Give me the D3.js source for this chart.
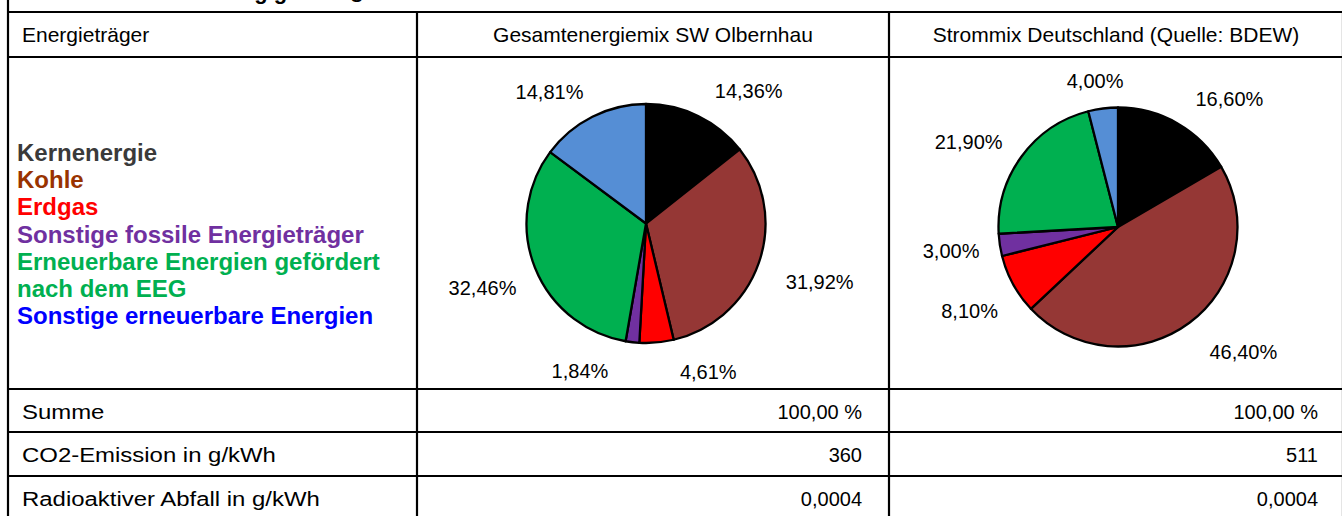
<!DOCTYPE html>
<html><head><meta charset="utf-8">
<script src="https://cdn.jsdelivr.net/npm/d3@7"></script>
<style>
html,body{margin:0;padding:0;background:#fff;overflow:hidden}
svg{display:block;font-family:Arial,"Liberation Sans",sans-serif}
</style></head>
<body>
<svg id="chart" width="1342" height="516"></svg>
<script>
// ---------- data ----------
const titleText = "Stromkennzeichnung gemäß § 42 EnWG";
const columnHeaders = ["Energieträger", "Gesamtenergiemix SW Olbernhau", "Strommix Deutschland (Quelle: BDEW)"];
const categories = ["Kernenergie", "Kohle", "Erdgas", "Sonstige fossile Energieträger",
  "Erneuerbare Energien gefördert nach dem EEG", "Sonstige erneuerbare Energien"];
const legendLines = [["Kernenergie"], ["Kohle"], ["Erdgas"], ["Sonstige fossile Energieträger"],
  ["Erneuerbare Energien gefördert", "nach dem EEG"], ["Sonstige erneuerbare Energien"]];
const mixOlbernhau = [14.36, 31.92, 4.61, 1.84, 32.46, 14.81];
const mixDeutschland = [16.60, 46.40, 8.10, 3.00, 21.90, 4.00];
const rowLabels = ["Summe", "CO2-Emission in g/kWh", "Radioaktiver Abfall in g/kWh"];
const valuesOlbernhau = ["100,00 %", "360", "0,0004"];
const valuesDeutschland = ["100,00 %", "511", "0,0004"];

// ---------- styles / layout ----------
const sliceColors = ["#000000", "#953735", "#FF0000", "#7030A0", "#00B050", "#558ED5"];
const legendColors = ["#3A3A3A", "#993300", "#FF0000", "#7030A0", "#00B050", "#0000FF"];
const colX = [8, 417, 889, 1343];
const rowY = [12, 57, 389, 432, 476, 520];
const pieCenters = [[646, 223.5], [1118, 227]];
const R = 119.5;

const svg = d3.select("#chart");
const locale = d3.formatLocale({decimal: ",", thousands: ".", grouping: [3], currency: ["", "€"]});
const fmt = locale.format(".2f");

// title (mostly cut off above the viewport)
svg.append("text").attr("x", 44).attr("y", -1.5)
  .attr("font-size", 22).attr("font-weight", "bold").attr("fill", "#000").text(titleText);

// table grid
const grid = svg.append("g").attr("stroke", "#000").attr("stroke-width", 2.2);
rowY.forEach(y => grid.append("line").attr("x1", colX[0]).attr("x2", colX[3]).attr("y1", y).attr("y2", y));
grid.append("line").attr("x1", colX[0]).attr("x2", colX[0]).attr("y1", -2).attr("y2", rowY[5]);
colX.slice(1).forEach(x => grid.append("line").attr("x1", x).attr("x2", x).attr("y1", rowY[0]).attr("y2", rowY[5]));

// header
svg.append("text").attr("x", 22).attr("y", 42).attr("font-size", 21).text(columnHeaders[0]);
[1, 2].forEach(c => svg.append("text")
  .attr("x", (colX[c] + colX[c + 1]) / 2).attr("y", 42).attr("text-anchor", "middle")
  .attr("font-size", 21).text(columnHeaders[c]));

// legend
const legend = svg.append("g").attr("font-weight", "bold").attr("font-size", 24);
let li = 0;
legendLines.forEach((lines, i) => lines.forEach(t => {
  legend.append("text").attr("x", 17).attr("y", 161 + li * 27.2)
    .attr("fill", legendColors[i]).text(t);
  li++;
}));

// pies
const pie = d3.pie().sort(null).value(d => d);
const arc = d3.arc().innerRadius(0).outerRadius(R);
[mixOlbernhau, mixDeutschland].forEach((vals, p) => {
  const g = svg.append("g").attr("transform", `translate(${pieCenters[p][0]},${pieCenters[p][1]})`);
  const arcs = pie(vals);
  g.selectAll("path").data(arcs).join("path")
    .attr("d", arc).attr("fill", (d, i) => sliceColors[i])
    .attr("stroke", "#000").attr("stroke-width", 2.3).attr("stroke-linejoin", "round");

  // labels: nearest corner of the label box sits just outside the slice's mid-angle
  const labels = g.selectAll("text").data(arcs).join("text")
    .attr("font-size", 20).attr("text-anchor", "middle").attr("fill", "#000")
    .text(d => fmt(d.data) + "%");
  const D = R + 20, hh = 10, padX = 70, padY = 40, k = 4;
  const items = arcs.map((d, i) => {
    const w = labels.nodes()[i].getComputedTextLength();
    return {theta: (d.startAngle + d.endAngle) / 2, hw: w / 2};
  });
  const clamp = v => Math.max(-1, Math.min(1, v));
  const place = it => {
    const s = Math.sin(it.theta), c = Math.cos(it.theta);
    it.x = D * s + it.hw * clamp(k * s) + (s > 0.3 ? 8 : 0);
    it.y = -D * c - hh * clamp(k * c);
  };
  items.forEach(place);
  for (let iter = 0; iter < 400; iter++) {
    let moved = false;
    for (let i = 0; i < items.length; i++) {
      const a = items[i], b = items[(i + 1) % items.length];
      const gx = Math.abs(a.x - b.x) - a.hw - b.hw;
      const gy = Math.abs(a.y - b.y) - 2 * hh;
      if (gx < padX && gy < padY) {
        a.theta -= 0.005; b.theta += 0.005; place(a); place(b); moved = true;
      }
    }
    if (!moved) break;
  }
  labels.attr("x", (d, i) => items[i].x).attr("y", (d, i) => items[i].y + 10);
});

// bottom rows
rowLabels.forEach((t, r) => {
  const yb = rowY[r + 2] + 30;
  svg.append("text").attr("transform", `translate(22,${yb}) scale(1.14,1)`)
    .attr("font-size", 21).text(t);
  svg.append("text").attr("x", colX[2] - 27).attr("y", yb).attr("text-anchor", "end")
    .attr("font-size", 20).text(valuesOlbernhau[r]);
  svg.append("text").attr("x", colX[3] - 25).attr("y", yb).attr("text-anchor", "end")
    .attr("font-size", 20).text(valuesDeutschland[r]);
});
</script>
</body></html>
